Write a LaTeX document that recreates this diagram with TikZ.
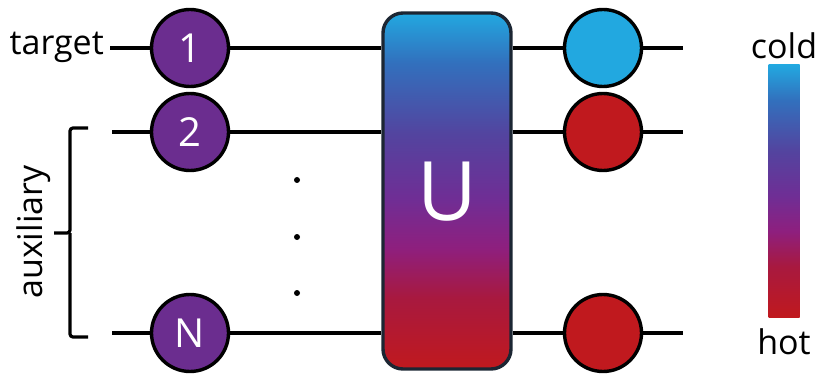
\documentclass[tikz,border=0pt]{standalone}
\usepackage{fontspec}
\setmainfont{Open Sans}
\definecolor{qpurple}{HTML}{6B2D8F}
\definecolor{coldc}{HTML}{22A8E0}
\definecolor{hotc}{HTML}{C0191E}
\definecolor{boxedge}{HTML}{1C2633}
\definecolor{hA}{HTML}{A8193F}
\definecolor{hB}{HTML}{8E1F7E}
\definecolor{hC}{HTML}{6F2E95}
\definecolor{hD}{HTML}{53449F}
\definecolor{hE}{HTML}{3270BD}
\pgfdeclareverticalshading{heat}{100bp}{color(0bp)=(hotc); color(25bp)=(hotc); color(35bp)=(hA); color(42bp)=(hB); color(49bp)=(hC); color(58bp)=(hD); color(68bp)=(hE); color(75bp)=(coldc); color(100bp)=(coldc)}
\tikzset{
  wire/.style={line width=3.2pt, black},
  qubit/.style={circle, draw=black, line width=3.4pt, fill=qpurple, minimum size=77pt, inner sep=0pt, text=white, font=\fontsize{40}{42}\selectfont},
  outq/.style={circle, draw=black, line width=3.4pt, minimum size=77pt, inner sep=0pt},
  lbl/.style={font=\fontsize{34}{36}\selectfont, text=black, inner sep=0pt},
  dotm/.style={circle, fill=black, minimum size=6pt, inner sep=0pt},
}
\begin{document}
\begin{tikzpicture}[x=1pt,y=-1pt]
\useasboundingbox (0,0) rectangle (819,374);
% gate
\node[draw=boxedge, line width=3.4pt, rounded corners=20pt, shading=heat, minimum width=128pt, minimum height=356pt, inner sep=0pt] (U) at (447,191) {};
\node[text=white, font=\fontsize{82}{84}\selectfont] (Ul) at (447,192) {U};
% input qubits
\node[qubit] (q1) at (190,48) {1};
\node[qubit] (q2) at (190,132) {2};
\node[qubit] (qN) at (190,333) {N};
% outputs
\node[outq, fill=coldc] (o1) at (603,48) {};
\node[outq, fill=hotc] (o2) at (603,132) {};
\node[outq, fill=hotc] (oN) at (603,333) {};
% wire ends
\coordinate (s1) at (110,48);
\coordinate (s2) at (112,132);
\coordinate (sN) at (112,333);
\coordinate (e1) at (683,48);
\coordinate (e2) at (683,132);
\coordinate (eN) at (683,333);
% labels
\node[lbl, anchor=east] (tg) at (104,47) {target};
\node[lbl, rotate=90] (aux) at (34,232) {auxiliary};
% wires
\draw[wire] (s1) -- (q1.west);
\draw[wire] (s2) -- (q2.west);
\draw[wire] (sN) -- (qN.west);
\draw[wire] (q1.east) -- (U.west |- q1);
\draw[wire] (q2.east) -- (U.west |- q2);
\draw[wire] (qN.east) -- (U.west |- qN);
\draw[wire] (U.east |- o1) -- (o1.west);
\draw[wire] (U.east |- o2) -- (o2.west);
\draw[wire] (U.east |- oN) -- (oN.west);
\draw[wire] (o1.east) -- (e1);
\draw[wire] (o2.east) -- (e2);
\draw[wire] (oN.east) -- (eN);
% bracket
\coordinate (bt) at (88,128);
\coordinate (bb) at (88,337);
\coordinate (bm) at (54,233);
\draw[wire, rounded corners=3pt] (bt) -- (70,128) -- (70,233) -- (bm);
\draw[wire, rounded corners=3pt] (bb) -- (70,337) -- (70,233);
% dots
\node[dotm] (d1) at (297,180) {};
\node[dotm] (d2) at (297,237) {};
\node[dotm] (d3) at (297,293) {};
% colour bar
\node[shading=heat, minimum width=31pt, minimum height=252pt, inner sep=0pt] (bar) at (784,191) {};
\node[lbl] (cold) at (784,46) {cold};
\node[lbl] (hot) at (784,342) {hot};
\end{tikzpicture}
\end{document}
